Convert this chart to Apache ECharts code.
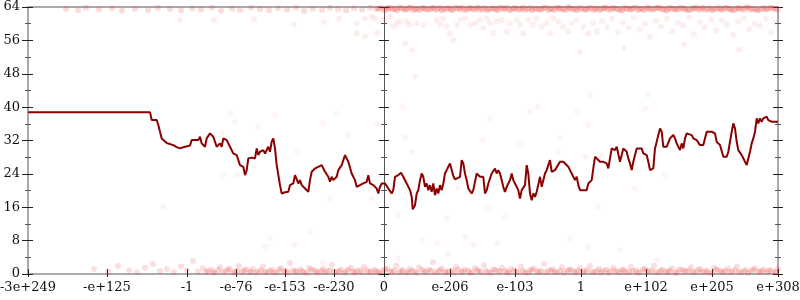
<!DOCTYPE html>
<html>
<head>
<meta charset="utf-8">
<script src="https://cdn.jsdelivr.net/npm/echarts@6/dist/echarts.min.js"></script>
<style>html,body{margin:0;padding:0;background:#fff}#c{width:800px;height:300px}</style>
</head>
<body>
<div id="c"></div>
<script>
// x positions are in ordered-float "rank" units, centred on 0
const tickPos = [-356,-277,-197,-148,-99,-50,0,66,131,197,262,328,394];
const tickLabels = ['-3e+249','-e+125','-1','-e-76','-e-153','-e-230','0','e-206','e-103','1','e+102','e+205','e+308'];
const yTicks = [0,8,16,24,32,40,48,56,64];

const linePoints = [
[-356,38.8],[-234,38.8],[-232.3,36.9],[-227.3,36.9],[-225.7,35.7],[-222.3,32.5],[-220.7,32.1],[-217.3,31.4],[-210.7,30.9],[-207.3,30.4],[-204,30.1],[-200.7,30.4],[-199,30.8],[-194,30.8],[-192.3,32.1],[-185.7,32.1],[-184,32.9],[-182.3,31.3],[-179,30.5],[-177.3,32.5],[-174,33.7],[-170.7,32.9],[-167.3,30.5],[-164,31.3],[-162.3,30.5],[-160.7,32.5],[-157.3,32.1],[-154,30.5],[-150.7,28.9],[-147.3,28.5],[-144,26.1],[-140.7,25.7],[-139,23.7],[-137.3,24.9],[-135.7,27.7],[-132.3,27.9],[-129,27.7],[-127.3,30.1],[-125.7,28.5],[-124,29.3],[-120.7,29.7],[-119,28.9],[-115.7,30.5],[-114,29.3],[-112.3,31.7],[-110.7,32.5],[-109,30.1],[-107.3,26.1],[-104,21.3],[-102.3,19.3],[-99,19.6],[-95.7,19.7],[-94,21.3],[-90.7,21.7],[-89,23.7],[-87.3,24.1],[-85.7,21.7],
[-84,22.5],[-82.3,21.3],[-79,20.5],[-75.7,19.7],[-74,22.5],[-72.3,24.5],[-69,25.3],[-65.7,25.7],[-62.3,26.1],[-59,24.5],[-55.7,23.3],[-54,22.1],[-52.3,23.3],[-50.7,22.5],[-47.3,23.3],[-45.7,24.9],[-44,24.5],[-42.3,26.1],[-40.7,26.5],[-39,28.5],[-37.3,28.8],[-35.7,26.9],[-34,26.5],[-32.3,24.1],[-29,22.5],[-27.3,20.9],[-24,21.3],[-20.7,21.7],[-17.3,22.1],[-15.7,23.7],[-14,21.7],[-10.7,21.3],[-9,21.7],[-7.3,20.5],[-5.7,19.3],[-4,20.9],[-2.3,21.7],[-0.7,22.1],[1,21.7],[2.7,22.1],[4.3,20.5],[6,20.1],[7.7,19.3],[9.3,20.1],[11,23.3],[14.3,23.7],[17,24.3],[19.3,23.3],[22.7,21.7],[26,20.1],[27.7,18.5],[28.7,15.5],[31,16.5],[32.7,19.3],[34.3,20.1],[36,22.5],[37.7,24.1],[39.3,23.3],[41,20.9],[42.7,21.7],[44.3,20.1],[46,21.3],[47.7,19.7],[49.3,21.7],[51,18.9],[52.7,20.5],[54.3,19.3],[56,21.3],[57.7,20.1],[59.3,21.7],[61,24.1],[62.7,24.9],[64.3,25.7],[66,26.5],[67.7,24.9],[69.3,23.5],[71,22.7],
[72.7,22.5],[76,23.3],[77.7,27.3],[79.3,26.5],[81,24.1],[82.7,22.5],[84.3,20.5],[87.7,19.3],[89.3,20.1],[91,20.1],[92.7,24.1],[96,23.3],[97.7,23.7],[99.3,23.3],[101,19.3],[102.7,20.1],[104.3,21.7],[106,22.1],[107.7,24.1],[109.3,24.5],[111,25.3],[112.7,24.1],[114.3,24.9],[116,24.1],[117.7,22.5],[119.3,20.9],[121,19.7],[122.7,20.9],[124.3,21.7],[126,22.5],[127.7,24.1],[129.3,22.5],[131,21.7],[132.7,20.9],[134.3,20.1],[136,18.1],[137.7,20.1],[139.3,20.5],[141,21.3],[142.7,26.1],[144.3,24.1],[146,19.3],[147.7,17.7],[149.3,19.3],[151,18.5],[152.7,19.7],[154.3,20.1],[156,23.3],[157.7,20.9],[159.3,22.5],[161,24.1],[162.7,24.9],[164.3,26.1],[166,27.3],[167.7,24.5],[169.3,24.1],[171,24.9],[172.7,25.3],[176,26.9],[177.7,27.3],[179.3,26.9],[181,26.5],[184.3,25.7],[186,24.9],[187.7,24.1],[189.3,24.5],[191,22.5],[192.7,23.3],[194.3,21.3],[196,20.1],[199.3,20.1],[202.7,20.1],[204.3,21.7],[207.7,22.5],[209.3,25.3],[211,28.1],[212.7,27.7],[216,26.9],[219.3,26.9],[222.7,26.5],[224.3,25.3],[226,25.7],[227.7,30.1],[229.3,30.5],
[231,29.7],[232.7,30.5],[234.3,30.1],[236,26.9],[237.7,28.5],[239.3,30.1],[241,30.1],[242.7,29.3],[244.3,27.7],[246,26.5],[247.7,24.9],[249.3,26.9],[251,28.5],[252.7,30.1],[254.3,30.5],[257.7,30.1],[259.3,28.9],[261,29.3],[262.7,28.5],[264.3,26.9],[266,24.9],[267.7,24.5],[269.3,25.3],[271,30.1],[272.7,31.7],[274.3,33.3],[276,34.9],[277.7,34.1],[279.3,30.5],[282.7,30.5],[284.3,30.5],[286,32.5],[287.7,32.1],[289.3,33.3],[291,32.5],[292.7,31.3],[294.3,31.7],[296,29.7],[297.7,31.3],[299.3,30.1],[301,32.5],[302.7,33.7],[304.3,33.3],[307.7,33.3],[309.3,32.5],[312.7,32.1],[314.3,31.7],[316,30.9],[317.7,31.3],[319.3,30.9],[321,32.5],[322.7,34.1],[324.3,34.5],[327.7,34.1],[331,33.7],[332.7,31.7],[334.3,32.1],[336,30.9],[337.7,30.5],[339.3,28.1],[342.7,28.1],[344.3,29.3],[346,31.7],[347.7,34.1],[349.3,36.1],[351,34.9],[352.7,31.7],[354.3,29.7],[357.7,28.5],[361,26.9],[362.7,26.1],[364.3,26.5],[366,29.3],[367.7,31.3],[369.3,32.5],[371,34.1],[372.7,37.3],[374.3,36.1],[376,37.3],[377.7,36.5],[379.3,37.3],[382.7,37.7],[384.3,36.9],[386,37.3],[387.7,36.5],[394,36.5]
];

const bottomBand = [
[-290,1.2],[-276,0.6],[-266,1.9],[-255,0.9],[-247,0.4],[-239,1.5],[-231,2.4],[-224,0.7],[-217,1.2],[-210,0.5],[-203,1.8],[-197,0.9],[-191,3.1],[-186,0.6],[-181,1.4],
[-178,0.5],[-173,1.1],[-169,0.3],[-164,1.6],[-158,0.8],[-154,1.3],[-149,0.5],[-145,2.0],[-140,0.9],[-135,0.4],[-131,1.2],[-126,0.7],[-121,1.8],[-117,0.5],[-112,1.0],[-107,0.3],[-103,1.4],[-98,0.8],[-94,2.6],[-89,0.6],[-84,1.1],[-80,0.4],[-75,1.5],[-70,0.9],[-66,0.3],[-61,1.2],[-57,0.7],[-52,2.2],[-47,0.5],[-43,1.0],[-38,0.6],[-33,1.5],[-29,0.3],[-24,0.9],[-20,1.7],[-15,0.5],[-10,1.1],[-6,0.4],[-1,0.8],[3,1.3],[8,0.5],[12,1.9],[17,0.7],[22,0.3],[26,1.2],[31,0.6],[35,1.6],[40,0.4],[45,1.0],[49,2.8],[54,0.6],[58,1.3],[63,0.4],[68,0.9],[72,1.7],[77,0.5],[81,1.1],[86,0.3],[91,1.4],[95,0.8],[100,2.1],[104,0.5],[109,1.0],[114,0.7],[118,1.5],[123,0.3],[127,1.2],[132,0.6],[137,1.8],[141,0.4],[146,0.9],[150,1.3],[155,0.5],[160,2.4],[164,0.8],[169,1.1],[173,0.4],[178,1.6],[183,0.7],[187,1.0],[192,0.3],[196,1.4],[201,0.6],[206,1.9],[210,0.5],[215,1.2],[219,0.8],[224,0.3],[229,1.5],[233,0.6],[238,1.1],[242,0.4],[247,1.7],[252,0.9],[256,0.5],[261,1.3],[265,0.7],[270,2.0],[275,0.4],[279,1.0],[284,0.6],[288,1.4],[293,0.3],[298,1.1],[302,0.8],[307,1.6],[311,0.5],[316,1.2],[321,0.7],[325,0.3],[330,1.5],[334,0.9],[339,0.5],[344,1.3],[348,0.6],[353,1.8],[357,0.4],[362,1.0],[367,0.7],[371,1.4],[376,0.5],[380,1.1],[385,0.8],[390,0.4],[394,1.2]
];

const bottomCore = [
[-176,0.7],[-171,0.4],[-166,0.9],[-161,0.5],[-156,1.0],[-151,0.3],[-147,0.8],[-142,0.5],[-138,1.1],[-133,0.6],[-128,0.3],[-123,0.9],[-119,0.5],[-114,0.7],[-110,0.4],[-105,1.0],[-100,0.6],[-96,0.3],[-91,0.9],[-87,0.5],[-82,0.7],[-77,0.3],[-73,1.0],[-68,0.6],[-63,0.8],[-59,0.4],[-54,0.9],[-50,0.5],[-45,0.7],[-40,0.3],[-36,1.0],[-31,0.6],[-27,0.8],[-22,0.4],[-17,0.9],[-13,0.5],[-8,0.7],[-4,0.3],[1,1.0],[6,0.6],[10,0.8],[15,0.4],[19,0.9],[24,0.5],[28,0.7],[33,0.3],[38,1.0],[42,0.6],[47,0.8],[51,0.4],[56,0.9],[61,0.5],[65,0.7],[70,0.3],[74,1.0],[79,0.6],[84,0.8],[88,0.4],[93,0.9],[97,0.5],[102,0.7],[107,0.3],[111,1.0],[116,0.6],[121,0.8],[125,0.4],[130,0.9],[134,0.5],[139,0.7],[144,0.3],[148,1.0],[153,0.6],[157,0.8],[162,0.4],[167,0.9],[171,0.5],[176,0.7],[180,0.3],[185,1.0],[190,0.6],[194,0.8],[199,0.4],[203,0.9],[208,0.5],[213,0.7],[217,0.3],[222,1.0],[226,0.6],[231,0.8],[236,0.4],[240,0.9],[245,0.5],[249,0.7],[254,0.3],[259,1.0],[263,0.6],[268,0.8],[272,0.4],[277,0.9],[282,0.5],[286,0.7],[291,0.3],[295,1.0],[300,0.6],[305,0.8],[309,0.4],[314,0.9],[318,0.5],[323,0.7],[328,0.3],[332,1.0],[337,0.6],[341,0.8],[346,0.4],[351,0.9],[355,0.5],[360,0.7],[364,0.3],[369,1.0],[374,0.6],[378,0.8],[383,0.4],[387,0.9],[392,0.5]
];

const topBand = [
[-318,63.6],[-306,63.2],[-298,63.8],[-285,63.4],[-272,63.7],[-262,63.1],[-249,63.6],[-236,63.3],[-226,63.8],[-214,63.5],[-203,63.2],[-192,63.7],[-183,63.4],[-172,63.8],[-163,63.1],[-152,63.6],[-144,63.3],[-133,63.8],[-124,63.5],[-115,63.2],[-106,63.7],[-97,63.4],[-88,63.8],[-80,63.1],[-71,63.6],[-62,63.3],[-54,63.8],[-46,63.5],[-38,63.2],[-30,63.7],[-22,63.4],[-14,63.8],
[-8,63.5],[-3,63.8],[2,63.3],[6,63.7],[11,63.5],[15,63.9],[20,63.4],[24,63.7],[29,63.2],[33,63.6],[38,63.8],[42,63.4],[47,63.6],[51,63.3],[56,63.8],[60,63.5],[65,63.7],[69,63.2],[74,63.6],[78,63.9],[83,63.4],[87,63.7],[92,63.5],[96,63.3],[101,63.8],[105,63.5],[110,63.7],[114,63.2],[119,63.6],[123,63.9],[128,63.4],[132,63.7],[137,63.5],[141,63.3],[146,63.8],[150,63.6],[155,63.4],[159,63.7],[164,63.2],[168,63.6],[173,63.9],[177,63.5],[182,63.3],[186,63.7],[191,63.5],[195,63.8],[200,63.4],[204,63.6],[209,63.2],[213,63.7],[218,63.5],[222,63.9],[227,63.4],[231,63.6],[236,63.3],[240,63.8],[245,63.5],[249,63.7],[254,63.2],[258,63.6],[263,63.9],[267,63.4],[272,63.7],[276,63.5],[281,63.3],[285,63.8],[290,63.6],[294,63.4],[299,63.7],[303,63.2],[308,63.6],[312,63.9],[317,63.5],[321,63.3],[326,63.7],[330,63.5],[335,63.8],[339,63.4],[344,63.6],[348,63.2],[353,63.7],[357,63.5],[362,63.9],[366,63.4],[371,63.6],[375,63.3],[380,63.8],[384,63.5],[389,63.7],[394,63.4]
];

const topCore = [
[-5.5,63.6],[0,63.3],[4,63.8],[8.5,63.5],[13,63.2],[17.5,63.7],[22,63.4],[26.5,63.9],[31,63.5],[35.5,63.3],[40,63.7],[44.5,63.4],[49,63.8],[53.5,63.5],[58,63.2],[62.5,63.6],[67,63.4],[71.5,63.8],[76,63.5],[80.5,63.3],[85,63.7],[89.5,63.4],[94,63.9],[98.5,63.5],[103,63.2],[107.5,63.6],[112,63.4],[116.5,63.8],[121,63.5],[125.5,63.3],[130,63.7],[134.5,63.4],[139,63.8],[143.5,63.5],[148,63.2],[152.5,63.6],[157,63.4],[161.5,63.8],[166,63.5],[170.5,63.3],[175,63.7],[179.5,63.4],[184,63.9],[188.5,63.5],[193,63.2],[197.5,63.6],[202,63.4],[206.5,63.8],[211,63.5],[215.5,63.3],[220,63.7],[224.5,63.4],[229,63.8],[233.5,63.5],[238,63.2],[242.5,63.6],[247,63.4],[251.5,63.8],[256,63.5],[260.5,63.3],[265,63.7],[269.5,63.4],[274,63.9],[278.5,63.5],[283,63.2],[287.5,63.6],[292,63.4],[296.5,63.8],[301,63.5],[305.5,63.3],[310,63.7],[314.5,63.4],[319,63.8],[323.5,63.5],[328,63.2],[332.5,63.6],[337,63.4],[341.5,63.8],[346,63.5],[350.5,63.3],[355,63.7],[359.5,63.4],[364,63.9],[368.5,63.5],[373,63.2],[377.5,63.6],[382,63.4],[386.5,63.8],[391,63.5]
];

const cloudPts = [
[-204,60.9],[-170,60.9],[-130,61.0],[-90,59.8],[-60,60.4],[-45,61.2],
[-27.3,60.1],[-19,61.3],[-12.3,61.7],[-9,61.3],[-27.3,57.7],[-19,56.9],[-7.3,57.7],[-0.7,60.9],[6,61.7],[9.3,59.3],[12.7,60.1],[16,60.5],[22.7,60.5],[26,59.7],[32.7,60.1],[39.3,59.7],[21,55.3],[27.7,53.7],[31,47.3],[52.7,60.9],[56,59.7],[59.3,61.3],[62.7,59.3],[66,57.7],[69.3,56.1],[72.7,59.7],[76,60.9],[81,61.3],[86,59.7],[91,60.1],[96,60.9],[99.3,58.9],[102.7,61.3],[106,60.1],[109.3,57.7],[112.7,60.5],[117.7,60.9],[122.7,58.1],[126,60.1],[132.7,60.9],[136,59.7],[139.3,57.7],[144.3,60.9],[149.3,59.7],[152.7,61.3],[157.7,59.3],[162.7,60.1],[166,57.7],[169.3,61.3],[174.3,60.5],[179.3,59.3],[184.3,58.1],[187.7,60.1],[192.7,60.9],[196,53.3],[199.3,59.3],[204.3,57.7],[209.3,60.1],[212.7,58.1],
[218,60.5],[223,59.2],[228,61.1],[234,57.9],[239,60.3],[245,59.0],[250,61.4],[256,58.6],[261,60.0],[266,56.8],[272,60.7],[277,59.4],[283,61.2],[288,58.2],[294,60.2],[299,59.6],[305,61.5],[310,57.5],[316,60.4],[321,59.1],[327,61.0],[332,58.4],[338,60.8],[343,59.8],[349,57.3],[354,60.6],[360,61.3],[365,58.7],[371,60.1],[376,59.5],[382,61.2],[387,57.9],[392,60.3],[240,54.2],[300,55.0],[355,53.8]
];

const sparsePts = [
[-154,38.5],[-149,36.5],[-126,35.3],[-109,38.1],[-162,33.7],[-87,29.3],[-61,36.2],[-47,38.5],[-36,33.3],[-7,36.1],[-161,23.7],[-147,23.7],[-54,18.1],[-12,18.1],[-221,16.1],
[19,40.1],[106,37.3],[21,32.9],[28,29.3],[99,32.1],[136,31.3],[176,32.5],[174,29.3],[204,35.7],[193,38.9],[154,40.1],[74,20.5],[104,15.7],[214,16.1],[121,13.7],[14,14.1],[63,13.3],[146,38.9],
[206,42.9],[264,42.9],[261,39.7],[201,28.1],[218,28.5],[281,23.7],[251,20.5],[186,8.5],[204,6.5],[236,5.8],[273,3.3],
[-114,8.6],[-119,6.5],[-89,7.0],[-61,2.6],[14,3.8],[38,8.1],[53,7.4],[64,5.0],[81,8.9],[89,7.0],[113,7.4],[-74,10.1]
];

const chart = echarts.init(document.getElementById('c'), null, {renderer: 'canvas'});
const FONT = 'DejaVu Serif';
const GRAY = '#aaaaaa';
const TICK = '#222222';
const DOT = 'rgba(235,30,30,';

function labelFor(v) {
  let best = -1, bd = 1e9;
  for (let i = 0; i < tickPos.length; i++) {
    const d = Math.abs(tickPos[i] - v);
    if (d < bd) { bd = d; best = i; }
  }
  return bd < 0.5 ? tickLabels[best] : '';
}

const xBase = {type: 'value', min: tickPos[0], max: tickPos[tickPos.length - 1], splitLine: {show: false}};
const yBase = {type: 'value', min: yTicks[0], max: yTicks[yTicks.length - 1], interval: 8, splitLine: {show: false}};

function yAx(extra) {
  return Object.assign({}, yBase, {
    minorTick: {show: true, splitNumber: 2, length: 3, lineStyle: {color: '#555'}},
    axisLabel: {show: false}
  }, extra);
}

function dots(data, alpha, size) {
  return {type: 'scatter', data: data, symbolSize: size || 6, itemStyle: {color: DOT + alpha + ')'}, silent: true, z: 1};
}

const option = {
  animation: false,
  backgroundColor: '#ffffff',
  grid: {left: 28, right: 22, top: 7, bottom: 26, containLabel: false, outerBoundsMode: 'none'},
  xAxis: [
    Object.assign({}, xBase, {
      position: 'bottom',
      axisLine: {show: true, onZero: false, lineStyle: {color: GRAY, width: 2}},
      axisTick: {show: true, inside: false, length: 3, customValues: tickPos, lineStyle: {color: TICK, width: 1}},
      axisLabel: {show: true, customValues: tickPos, formatter: labelFor, fontFamily: FONT, fontSize: 13, color: '#111', margin: 7, hideOverlap: false}
    }),
    Object.assign({}, xBase, {
      position: 'bottom',
      axisLine: {show: false, onZero: false},
      axisTick: {show: true, inside: true, length: 5, customValues: tickPos, lineStyle: {color: TICK, width: 1}},
      axisLabel: {show: false}
    }),
    Object.assign({}, xBase, {
      position: 'top',
      axisLine: {show: true, onZero: false, lineStyle: {color: GRAY, width: 2}},
      axisTick: {show: false},
      axisLabel: {show: false}
    })
  ],
  yAxis: [
    yAx({
      position: 'left',
      axisLine: {show: true, onZero: false, lineStyle: {color: GRAY, width: 2}},
      axisTick: {show: true, inside: false, length: 6, lineStyle: {color: TICK}},
      axisLabel: {show: true, fontFamily: FONT, fontSize: 13, color: '#111', margin: 8}
    }),
    yAx({position: 'left', axisLine: {show: false, onZero: false}, axisTick: {show: true, inside: true, length: 5, lineStyle: {color: TICK}}}),
    yAx({position: 'right', axisLine: {show: true, onZero: false, lineStyle: {color: GRAY, width: 2}}, axisTick: {show: true, inside: false, length: 5, lineStyle: {color: TICK}}}),
    yAx({position: 'right', axisLine: {show: false, onZero: false}, axisTick: {show: true, inside: true, length: 5, lineStyle: {color: TICK}}}),
    yAx({position: 'left', offset: -356, axisLine: {show: true, onZero: false, lineStyle: {color: '#555', width: 1}}, axisTick: {show: true, inside: false, length: 5, lineStyle: {color: TICK}}}),
    yAx({position: 'left', offset: -356, axisLine: {show: false, onZero: false}, axisTick: {show: true, inside: true, length: 5, lineStyle: {color: TICK}}})
  ],
  series: [
    dots(sparsePts, 0.06),
    dots(cloudPts, 0.09),
    dots(topBand, 0.2),
    dots(topCore, 0.28),
    dots(bottomBand, 0.18),
    dots(bottomCore, 0.22),
    {type: 'line', data: linePoints, showSymbol: false, symbol: 'none', lineStyle: {color: '#8b0000', width: 2}, itemStyle: {color: '#8b0000'}, z: 5, silent: true}
  ]
};
chart.setOption(option);
</script>
</body>
</html>
